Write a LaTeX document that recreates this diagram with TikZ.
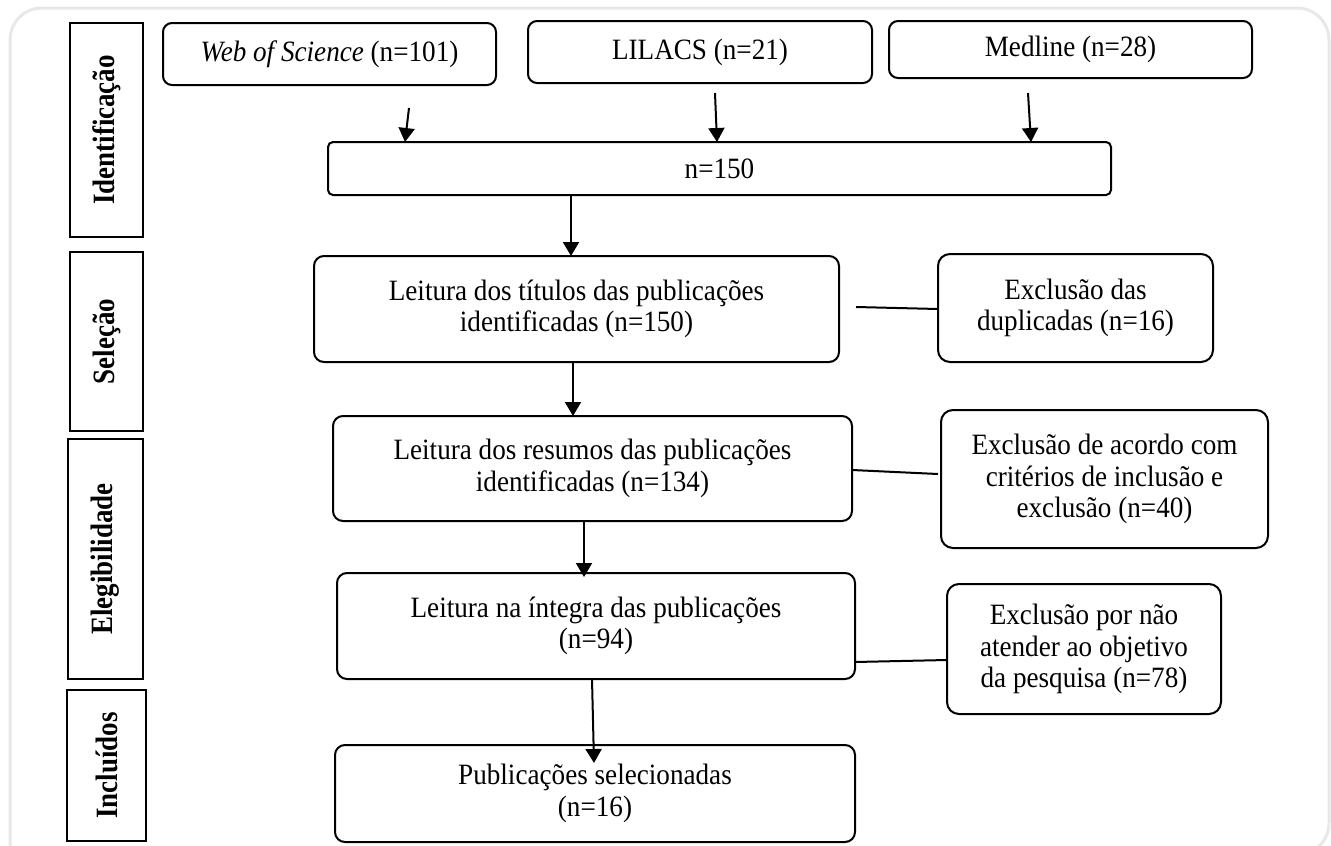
\documentclass[tikz,border=0pt]{standalone}
\usepackage{fontspec}
\setmainfont{Liberation Serif}[FakeStretch=0.92]
\newfontfamily\labfont{Liberation Serif}[FakeStretch=0.87]
\usetikzlibrary{arrows.meta}
\begin{document}
\begin{tikzpicture}[x=1pt,y=-1pt,
  box/.style={draw, line width=2pt, rounded corners=9pt, anchor=north west, inner sep=0pt, outer sep=0pt, align=center, font=\fontsize{29.5}{31.5}\selectfont},
  lab/.style={draw, line width=2.6pt, inner sep=0pt, outer sep=0pt, rotate=90, font=\labfont\bfseries\fontsize{31}{31.5}\selectfont},
  arr/.style={line width=2pt, -{Triangle[width=16pt,length=14pt]}},
  link/.style={line width=2pt},
  framegray/.style={draw=black!9, line width=3pt, rounded corners=32pt}]
\useasboundingbox (0,0) rectangle (1331,846);
\begin{scope}
\clip (0,0) rectangle (1331,846);
\draw[framegray] (10,900) -- (10,8) -- (1329,8) -- (1329,855) -- (-40,855);
\end{scope}
% stage labels
\node[lab, minimum width=214pt, minimum height=73pt] (idlab) at (106.5,130) {Identificação};
\node[lab, minimum width=179pt, minimum height=73pt] (sellab) at (106.5,341.5) {Seleção};
\node[lab, minimum width=240pt, minimum height=75pt] (elelab) at (105.5,559) {Elegibilidade};
\node[lab, minimum width=151pt, minimum height=79pt] (inclab) at (106.5,765.5) {Incluídos};
% sources
\node[box, minimum width=333pt, minimum height=62pt] (wos) at (163,23) {\textit{Web of Science} (n=101)};
\node[box, minimum width=344pt, minimum height=62pt] (lil) at (528,21) {LILACS (n=21)};
\node[box, minimum width=363pt, minimum height=57pt] (med) at (889,21) {Medline (n=28)};
\node[box, rounded corners=5pt, minimum width=783pt, minimum height=53pt] (n150) at (328,142) {n=150};
% main flow
\node[box, rounded corners=10pt, minimum width=525pt, minimum height=106pt] (tit) at (314,256) {Leitura dos títulos das publicações\\identificadas (n=150)};
\node[box, rounded corners=10pt, minimum width=519pt, minimum height=105pt] (res) at (333,416) {Leitura dos resumos das publicações\\identificadas (n=134)};
\node[box, rounded corners=10pt, minimum width=518pt, minimum height=106pt] (int) at (337,573) {Leitura na íntegra das publicações\\(n=94)};
\node[box, rounded corners=10pt, minimum width=520pt, minimum height=97pt] (pub) at (335,745) {Publicações selecionadas\\(n=16)};
% exclusions
\node[box, rounded corners=12pt, minimum width=275pt, minimum height=108pt] (exd) at (938,254) {Exclusão das\\duplicadas (n=16)};
\node[box, rounded corners=12pt, minimum width=327pt, minimum height=138pt] (exa) at (941,410) {Exclusão de acordo com\\critérios de inclusão e\\exclusão (n=40)};
\node[box, rounded corners=12pt, minimum width=274pt, minimum height=130pt] (exn) at (947,584) {Exclusão por não\\atender ao objetivo\\da pesquisa (n=78)};
% arrows
\draw[arr] ([shift={(79.5,23)}]wos.south) -- ([shift={(-314.5,0)}]n150.north);
\draw[arr] ([shift={(15,10)}]lil.south) -- ([shift={(-2.5,0)}]n150.north);
\draw[arr] ([shift={(-42.5,15)}]med.south) -- ([shift={(311.5,0)}]n150.north);
\draw[arr] ([shift={(-148.5,0)}]n150.south) -- (tit.north -| 571,0);
\draw[arr] (tit.south -| 573,0) -- (res.north -| 573,0);
\draw[arr] (res.south -| 584,0) -- ([yshift=-4pt]int.north -| 584,0);
\draw[arr] (int.south -| 592,0) -- ([shift={(-1,18)}]pub.north);
% links to exclusions
\draw[link] ([shift={(17,-2)}]tit.east) -- ([shift={(0,1)}]exd.west);
\draw[link] ([shift={(0,1.5)}]res.east) -- ([shift={(-3,-5)}]exa.west);
\draw[link] ([shift={(0,36)}]int.east) -- ([shift={(0,11)}]exn.west);
\end{tikzpicture}
\end{document}
